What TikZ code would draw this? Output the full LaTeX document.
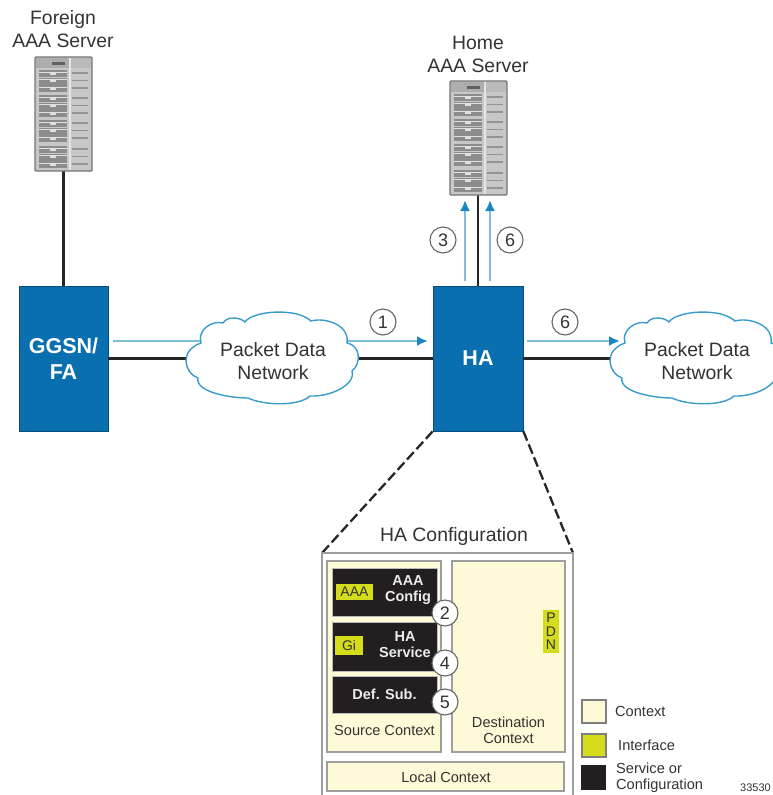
\documentclass[tikz,border=0pt]{standalone}
\usepackage{fontspec}
\setmainfont{Liberation Sans}
\usetikzlibrary{arrows.meta}
\definecolor{hablue}{HTML}{0A6FAE}
\definecolor{cloudblue}{HTML}{3A9CCB}
\definecolor{arrowblue}{HTML}{1B86BF}
\definecolor{linkblue}{HTML}{7FBDDD}
\definecolor{ctxfill}{HTML}{FEF9D6}
\definecolor{ifacefill}{HTML}{D4DC1C}
\definecolor{svcfill}{HTML}{231F20}
\definecolor{frame}{HTML}{9E9E9E}
\definecolor{txt}{HTML}{333333}
\tikzset{
  x=1pt,y=-1pt,
  netbox/.style={draw=hablue!70!black,line width=.8pt,fill=hablue,text=white,inner sep=0pt,font=\fontsize{21.5}{26}\selectfont\bfseries,align=center},
  label/.style={text=txt,inner sep=0pt,align=center,font=\fontsize{19.4}{23}\selectfont},
  small/.style={text=txt,inner sep=0pt,align=center,font=\fontsize{14.6}{16}\selectfont},
  num/.style={circle,draw=txt!75,line width=1.1pt,fill=white,text=txt,minimum size=26pt,inner sep=0pt,font=\fontsize{18}{19}\selectfont},
  ctx/.style={draw=frame,line width=1.3pt,fill=ctxfill,inner sep=0pt},
  svc/.style={draw=frame!70,line width=.7pt,fill=svcfill,inner sep=0pt},
  svctext/.style={text=white!92!black,inner sep=0pt,align=center,font=\fontsize{14.5}{16}\selectfont\bfseries},
  iface/.style={fill=ifacefill,text=txt,inner sep=0pt,font=\fontsize{14}{15}\selectfont,align=center},
  wire/.style={draw=black!85,line width=2.2pt},
  flow/.style={draw=linkblue,line width=2.2pt,-{Latex[length=11pt,width=10pt,color=arrowblue]}},
  cloudline/.style={draw=cloudblue,line width=1.4pt,fill=white},
  dashwire/.style={draw=black!85,line width=2.3pt,dash pattern=on 10pt off 4pt},
}
\newcommand{\serverbody}[2]{%
 \begin{scope}[shift={(#1,#2)}]
  \fill[rounded corners=1pt,fill=black!22] (0,0) rectangle (57,114);
  \draw[rounded corners=1pt,draw=black!55,line width=1.2pt] (0,0) rectangle (57,114);
  \fill[black!32] (1,1) rectangle (34,11);
  \fill[black!27] (35,1) rectangle (56,11);
  \fill[black!62] (17,4.5) rectangle (30,7.5);
  \fill[black!10] (34,1) rectangle (36,113);
  \foreach \g in {13,38,63,89}{
    \foreach \r in {0,7.5,15}{
      \fill[black!45] (4,\g+\r) rectangle (32,\g+\r+7);
      \fill[black!12] (4,\g+\r+1.5) rectangle (32,\g+\r+2);
      \fill[black!12] (15,\g+\r+2.5) rectangle (21,\g+\r+4.5);
      \fill[black!42] (37,\g+\r+2) rectangle (53,\g+\r+3.6);
    }
  }
 \end{scope}}
\newcommand{\cloudbody}[3]{%
 \path[cloudline,shift={(#1,#2)},name=#3] (21,43)
  .. controls (17,30) and (32,20) .. (43,23)
  .. controls (47,16) and (60,17) .. (65,22)
  .. controls (72,11) and (116,7) .. (131,21)
  .. controls (145,17) and (170,25) .. (167,43)
  .. controls (180,45) and (182,63) .. (172,71)
  .. controls (176,85) and (150,97) .. (130,96)
  .. controls (120,106) and (85,106) .. (68,98)
  .. controls (50,98) and (15,92) .. (18,78)
  .. controls (3,72) and (0,50) .. (21,43) -- cycle;}
\begin{document}
\begin{tikzpicture}
\useasboundingbox (0,0) rectangle (772,795);
% nodes
\node[inner sep=0pt,minimum width=57pt,minimum height=114pt] (foreign) at (63.5,113.5) {};
\node[inner sep=0pt,minimum width=57pt,minimum height=114pt] (home) at (478,137.5) {};
\node[netbox,minimum width=89pt,minimum height=145pt] (ggsn) at (63.5,358.5) {GGSN/\\FA};
\node[netbox,minimum width=90pt,minimum height=145pt] (ha) at (478,358.5) {HA};
\node[label] (foreignlabel) at (63,29) {Foreign\\AAA Server};
\node[label] (homelabel) at (478,54) {Home\\AAA Server};
% anchors for free ends
\coordinate (edge) at (772,358.5);
\coordinate (cfgTL) at (322,553);
\coordinate (cfgTR) at (573,553);
\coordinate (cfgBL) at (322,795);
\coordinate (cfgBR) at (573,795);
\coordinate (gA) at (113,341);
\coordinate (hA) at (428,341);
\coordinate (hB) at (527,341);
\coordinate (cB) at (620,341);
\coordinate (u1a) at (465,281);
\coordinate (u1b) at (465,200);
\coordinate (u2a) at (490,281);
\coordinate (u2b) at (490,200);
% wires
\draw[wire] (foreign.south) -- (foreign.south |- ggsn.north);
\draw[wire] (home) -- (ha);
\draw[wire] (ggsn) -- (ha);
\draw[wire] (ha) -- (edge);
\draw[flow] (gA) -- (hA);
\draw[flow] (hB) -- (cB);
\draw[flow] (u1a) -- (u1b);
\draw[flow] (u2a) -- (u2b);
\serverbody{35}{57}
\serverbody{450}{81}
\cloudbody{180}{300}{cloudA}
\cloudbody{604}{300}{cloudB}
\node[label] (pdnA) at (273,361) {Packet Data\\Network};
\node[label] (pdnB) at (697,361) {Packet Data\\Network};
\node[num] (n1) at (383,322) {1};
\node[num] (n6b) at (565,322) {6};
\node[num] (n3) at (443,240) {3};
\node[num] (n6a) at (510,240) {6};
% zoom
\draw[dashwire] (ha.south west) -- (cfgTL);
\draw[dashwire] (ha.south east) -- (cfgTR);
\node[label] (cfglabel) at (454,536) {HA Configuration};
\draw[draw=frame,line width=1.6pt] (cfgBL) -- (cfgTL) -- (cfgTR) -- (cfgBR);
\node[ctx,minimum width=114pt,minimum height=191pt] (src) at (384,656.5) {};
\node[ctx,minimum width=113pt,minimum height=191pt] (dst) at (508.5,656.5) {};
\node[ctx,minimum width=237pt,minimum height=29pt] (loc) at (445.5,776.5) {};
\node[small] (loclabel) at (446,777) {Local Context};
\node[small] (srclabel) at (384.5,730) {Source Context};
\node[small] (dstlabel) at (508.5,730) {Destination\\Context};
\node[svc,minimum width=105pt,minimum height=48pt] (s1) at (384.5,592) {};
\node[svc,minimum width=105pt,minimum height=49pt] (s2) at (384.5,646.5) {};
\node[svc,minimum width=105pt,minimum height=37pt] (s3) at (384.5,694.5) {};
\node[iface,minimum width=37pt,minimum height=16pt] (aaa) at (354.5,592) {AAA};
\node[iface,minimum width=28pt,minimum height=19pt] (gi) at (349,645) {Gi};
\node[iface,minimum width=16pt,minimum height=43pt,font=\fontsize{14}{13.5}\selectfont] (pdn) at (551,631.5) {P\\D\\N};
\node[svctext] (s1t) at (408,590) {AAA\\Config};
\node[svctext] (s2t) at (405,645) {HA\\Service};
\node[svctext] (s3t) at (384.5,694) {Def. Sub.};
\node[num] (n2) at (445,613) {2};
\node[num] (n4) at (445,663) {4};
\node[num] (n5) at (445,702) {5};
% legend
\node[ctx,draw=frame!80!black,minimum width=24pt,minimum height=23pt] (lg1) at (594,711.5) {};
\node[ctx,draw=frame!80!black,fill=ifacefill,minimum width=24pt,minimum height=23pt] (lg2) at (594,745.5) {};
\node[fill=svcfill,inner sep=0pt,minimum width=25pt,minimum height=25pt] (lg3) at (593.5,777.5) {};
\node[small,anchor=west] (lg1t) at (615,711) {Context};
\node[small,anchor=west] (lg2t) at (618,745) {Interface};
\node[small,anchor=west,align=left] (lg3t) at (616,777.5) {Service or\\Configuration};
\node[text=txt,inner sep=0pt,anchor=east,font=\fontsize{11}{12}\selectfont] (idn) at (771,788) {33530};
\end{tikzpicture}
\end{document}
